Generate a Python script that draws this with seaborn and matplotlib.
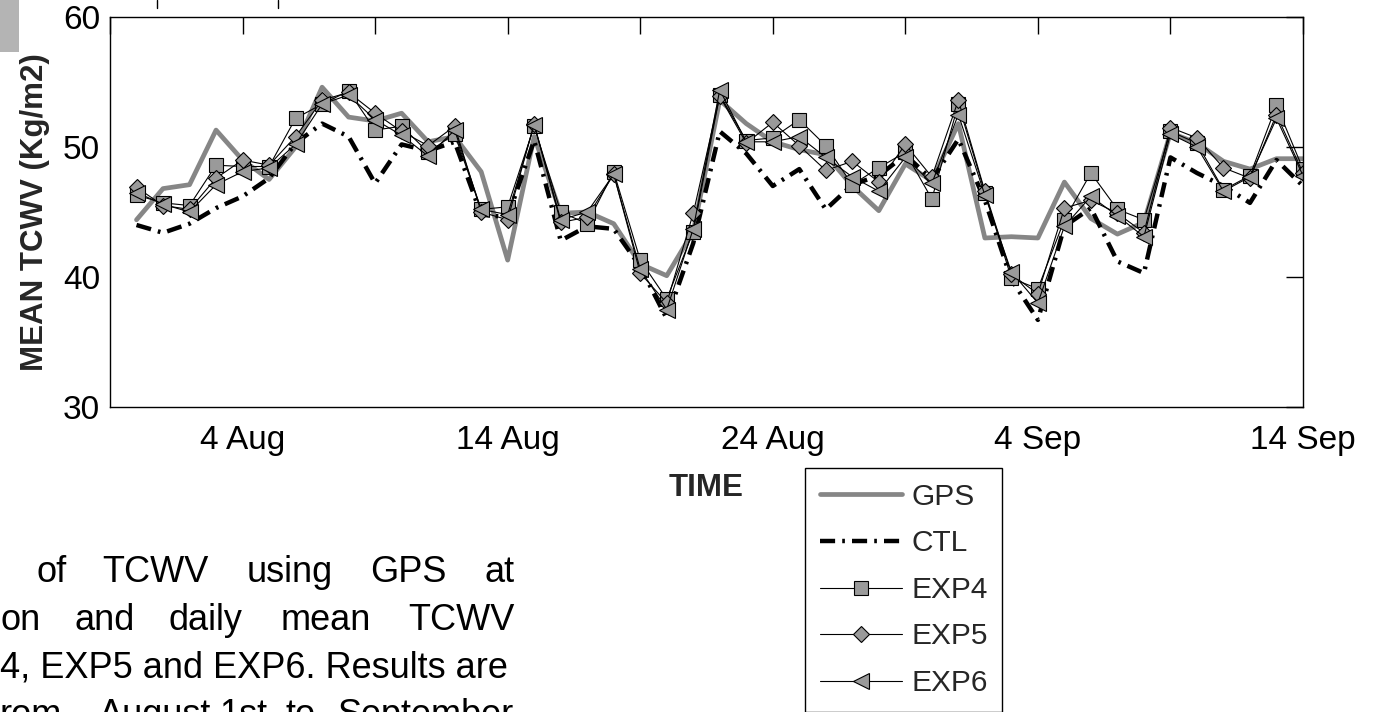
import numpy as np
import pandas as pd
import matplotlib
matplotlib.use("Agg")
import matplotlib.pyplot as plt
import seaborn as sns
from matplotlib.lines import Line2D
from matplotlib.patches import Rectangle

# Daily mean TCWV (kg/m2), 1 Aug .. 14 Sep
days = np.arange(45)
tick_days = [-1, 4, 9, 14, 19, 24, 29, 34, 39, 44]
tick_labels = ["", "4 Aug", "", "14 Aug", "", "24 Aug", "", "4 Sep", "", "14 Sep"]
y_ticks = [30, 40, 50, 60]

gps = [44.4, 46.8, 47.1, 51.3, 49.0, 47.5, 50.0, 54.6, 52.3, 52.0,
       52.6, 50.4, 50.8, 48.1, 41.3, 50.8, 44.9, 45.0, 44.1, 41.0,
       40.1, 43.5, 53.6, 51.8, 50.4, 49.8, 49.4, 47.0, 45.1, 48.7,
       47.4, 51.8, 43.0, 43.1, 43.0, 47.3, 44.5, 43.3, 44.2, 51.1,
       50.3, 48.9, 48.3, 49.1, 49.1]
ctl = [44.0, 43.4, 44.1, 45.3, 46.2, 47.6, 50.3, 51.8, 50.8, 47.2,
       50.2, 49.7, 50.4, 44.8, 44.6, 50.5, 42.8, 43.9, 43.7, 40.8,
       36.8, 42.6, 51.2, 49.5, 47.0, 48.3, 45.2, 47.1, 47.8, 49.4,
       47.5, 50.6, 45.9, 39.8, 36.7, 43.9, 45.3, 41.2, 40.3, 49.2,
       48.0, 47.0, 45.7, 49.0, 47.0]
exp4 = [46.3, 45.7, 45.5, 48.6, 48.5, 48.5, 52.2, 53.3, 54.3, 51.3,
        51.6, 49.6, 51.0, 45.2, 45.4, 51.6, 45.0, 44.1, 48.1, 41.3,
        38.3, 43.5, 54.0, 50.5, 50.7, 52.1, 50.1, 47.1, 48.4, 49.6,
        46.0, 53.3, 46.5, 39.9, 39.1, 44.4, 48.0, 45.2, 44.4, 51.2,
        50.3, 46.7, 47.8, 53.2, 48.3]
exp5 = [46.9, 45.5, 45.2, 47.6, 49.0, 48.6, 50.8, 53.6, 54.2, 52.6,
        51.2, 50.1, 51.6, 45.0, 44.4, 51.8, 44.2, 44.6, 47.9, 40.3,
        38.0, 44.9, 53.9, 50.3, 51.9, 50.1, 48.2, 48.9, 47.3, 50.2,
        47.7, 53.6, 46.6, 40.2, 38.7, 45.3, 45.9, 44.9, 43.4, 51.5,
        50.7, 48.4, 47.6, 52.5, 48.0]
exp6 = [46.5, 45.6, 45.0, 47.1, 48.1, 48.4, 50.2, 53.3, 54.0, 52.1,
        50.9, 49.3, 51.3, 45.2, 44.8, 51.7, 44.4, 45.0, 47.9, 40.6,
        37.5, 43.7, 54.4, 50.4, 50.4, 50.8, 49.2, 47.7, 46.6, 49.2,
        47.2, 52.5, 46.3, 40.4, 38.0, 43.9, 46.2, 44.7, 43.1, 51.0,
        50.0, 46.6, 47.7, 52.2, 47.8]

df = pd.DataFrame({"day": days, "GPS": gps, "CTL": ctl,
                   "EXP4": exp4, "EXP5": exp5, "EXP6": exp6})

sns.set_theme(style="white")
plt.rcParams["font.family"] = ["Liberation Sans", "DejaVu Sans"]

W, H = 1375, 712
fig = plt.figure(figsize=(W / 100, H / 100), dpi=100)
fig.patch.set_facecolor("white")
ax = fig.add_axes([110 / W, 1 - 407 / H, (1303 - 110) / W, (407 - 17) / H])

grey_line = "#868686"
grey_fill = "#9a9a9a"

sns.lineplot(data=df, x="day", y="GPS", ax=ax, color=grey_line,
             linewidth=3.4, label="GPS")
sns.lineplot(data=df, x="day", y="CTL", ax=ax, color="black",
             linewidth=3.2, linestyle=(0, (3.4, 1.6, 0.6, 1.6)), label="CTL")
marker_kw = dict(color="black", linewidth=0.8, markerfacecolor=grey_fill,
                 markeredgecolor="black", markeredgewidth=0.8)
sns.lineplot(data=df, x="day", y="EXP4", ax=ax, marker="s",
             markersize=9.5, label="EXP4", **marker_kw)
sns.lineplot(data=df, x="day", y="EXP5", ax=ax, marker="D",
             markersize=8.5, label="EXP5", **marker_kw)
sns.lineplot(data=df, x="day", y="EXP6", ax=ax, marker="<",
             markersize=11.5, label="EXP6", **marker_kw)

handles, labels = ax.get_legend_handles_labels()
if ax.get_legend() is not None:
    ax.get_legend().remove()

ax.set_xlim(-1, 44)
ax.set_ylim(30, 60)
ax.set_xticks(tick_days)
ax.set_xticklabels(tick_labels)
ax.set_yticks(y_ticks)
ax.tick_params(direction="in", length=12, width=1, top=True, right=True,
               colors="black", labelsize=24)
ax.tick_params(axis="x", pad=13)
ax.tick_params(axis="y", pad=7)
for sp in ax.spines.values():
    sp.set_color("black")
    sp.set_linewidth(1)

ax.set_xlabel("TIME", fontsize=22.5, fontweight="bold")
ax.set_ylabel("MEAN TCWV (Kg/m2)", fontsize=22.5, fontweight="bold")
ax.xaxis.set_label_coords(0.5, -(488 - 407) / 390)
ax.xaxis.label.set_va("center")
ax.yaxis.set_label_coords((35 - 110) / 1193, 0.5)
ax.yaxis.label.set_va("center")
ax.yaxis.label.set_ha("center")

leg = fig.legend(handles, labels, loc="upper left",
                 bbox_to_anchor=(805 / W, 1 - 468 / H), borderaxespad=0,
                 fontsize=21.5, handlelength=2.75, handletextpad=0.3,
                 labelspacing=0.62, borderpad=0.5, numpoints=1,
                 fancybox=False, framealpha=1, edgecolor="black")
leg.get_frame().set_linewidth(1)


def px(x, y):
    return x / W, 1 - y / H


# caption text below the chart
caption_lines = [
    (582, [("of", 36), ("TCWV", 102), ("using", 247), ("GPS", 370), ("at", 485)]),
    (630, [("on", 0), ("and", 75), ("daily", 168), ("mean", 281), ("TCWV", 408)]),
    (678, [("4, EXP5 and EXP6. Results are", 0)]),
    (725, [("rom", 0), ("August", 99), ("1st", 219), ("to", 286), ("September", 337)]),
]
for base, words in caption_lines:
    for word, x0 in words:
        fig.text(*px(x0, base), word, fontsize=26, color="black",
                 ha="left", va="baseline")

# stray marks along the top border
fig.patches.append(Rectangle(px(0, 52), 19 / W, 52 / H, transform=fig.transFigure,
                             facecolor="#b4b4b4", edgecolor="none"))
for xs in (157, 278):
    fig.lines.append(Line2D([xs / W, xs / W], [1, 1 - 8 / H],
                            transform=fig.transFigure, color="black", lw=1))

fig.savefig("out.png", dpi=100)
